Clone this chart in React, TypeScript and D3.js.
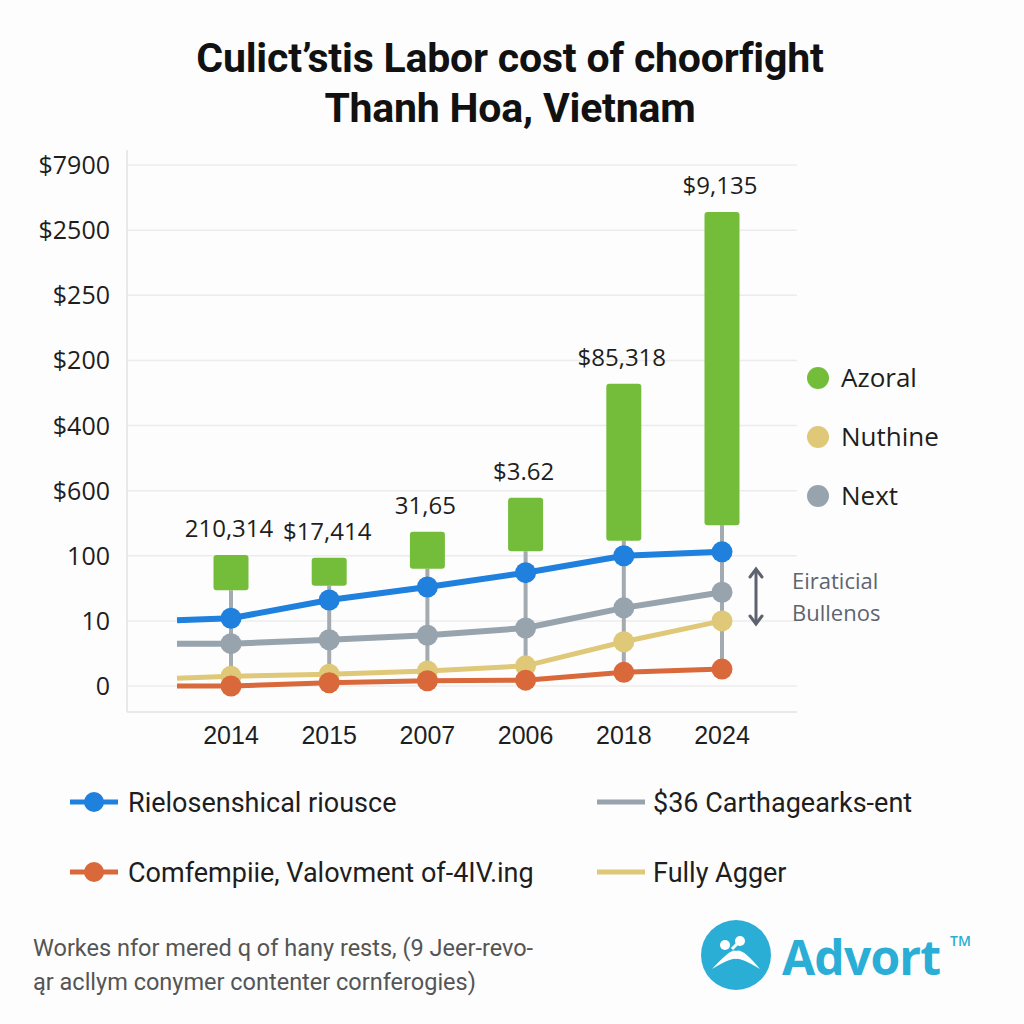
import React from "react";
import * as d3 from "d3";

const years = ["2014", "2015", "2007", "2006", "2018", "2024"];
const yTickLabels = ["0", "10", "100", "$600", "$400", "$200", "$250", "$2500", "$7900"];

// values in axis-step units (0 = "0" tick, 8 = "$7900" tick)
const barTop = [2.01, 1.97, 2.37, 2.89, 4.64, 7.28];
const barBottom = [1.47, 1.54, 1.8, 2.07, 2.23, 2.47];
const barLabels = ["210,314", "$17,414", "31,65", "$3.62", "$85,318", "$9,135"];

const blueValues = [1.04, 1.32, 1.52, 1.74, 2.0, 2.06];
const grayValues = [0.65, 0.71, 0.78, 0.89, 1.2, 1.44];
const yellowValues = [0.15, 0.18, 0.23, 0.31, 0.68, 1.0];
const orangeValues = [0.0, 0.05, 0.08, 0.09, 0.21, 0.26];
const leadIn = { blue: 1.01, gray: 0.65, yellow: 0.12, orange: 0.0 };

const sideLegend = ["Azoral", "Nuthine", "Next"];
const bottomLegend = [
  "Rielosenshical riousce",
  "$36 Carthagearks-ent",
  "Comfempiie, Valovment of-4IV.ing",
  "Fully Agger",
];
const titleLines = ["Culict\u2019stis Labor cost of choorfight", "Thanh Hoa, Vietnam"];
const footerLines = [
  "Workes nfor mered q of hany rests, (9 Jeer-revo-",
  "\u0105r acllym conymer contenter cornferogies)",
];

const C = {
  green: "#74bd3a",
  blue: "#1f80dd",
  gray: "#97a3ad",
  yellow: "#dfc878",
  orange: "#d9683b",
  connector: "#a3aab0",
  grid: "#ececec",
  text: "#1e1e1e",
  logo: "#2aaed6",
};

export default function App() {
  const x = d3.scalePoint<string>().domain(years).range([231, 722]);
  const y = d3.scaleLinear().domain([0, 8]).range([686, 165]);
  const step = x.step();
  const leadX = (x(years[0]) as number) - step * 0.55;

  const line = d3
    .line<[number, number]>()
    .x((d) => d[0])
    .y((d) => y(d[1]));

  const series = [
    { key: "yellow", vals: yellowValues, color: C.yellow, w: 5, lead: leadIn.yellow },
    { key: "orange", vals: orangeValues, color: C.orange, w: 5, lead: leadIn.orange },
    { key: "gray", vals: grayValues, color: C.gray, w: 6, lead: leadIn.gray },
    { key: "blue", vals: blueValues, color: C.blue, w: 6, lead: leadIn.blue },
  ];

  const pts = (vals: number[], lead: number): [number, number][] => [
    [leadX, lead],
    ...vals.map((v, i) => [x(years[i]) as number, v] as [number, number]),
  ];

  const barW = 35;
  const font = "'Open Sans', 'Noto Sans', sans-serif";

  return (
    <div style={{ position: "absolute", left: 0, top: 0 }}>
      <svg width={1024} height={1024} viewBox="0 0 1024 1024">
        <rect width={1024} height={1024} fill="#fdfdfd" />
        {/* title */}
        {titleLines.map((t, i) => (
          <text
            key={t}
            x={510}
            y={72 + i * 50}
            textAnchor="middle"
            fontFamily="Roboto, 'Liberation Sans', sans-serif"
            fontWeight={700}
            fontSize={41}
            letterSpacing={-0.2}
            fill="#111"
          >
            {t}
          </text>
        ))}

        {/* gridlines */}
        {yTickLabels.map((t, i) => (
          <line key={"g" + t} x1={127} x2={797} y1={y(i)} y2={y(i)} stroke={C.grid} strokeWidth={1.5} />
        ))}
        <line x1={127} x2={127} y1={150} y2={712} stroke="#e2e2e2" strokeWidth={1.5} />
        <line x1={127} x2={797} y1={712} y2={712} stroke="#e2e2e2" strokeWidth={1.5} />

        {/* y tick labels */}
        {yTickLabels.map((t, i) => (
          <text key={t} x={110} y={y(i)} dy="0.36em" textAnchor="end" fontFamily={font} fontSize={25} fill={C.text}>
            {t}
          </text>
        ))}

        {/* x labels */}
        {years.map((yr) => (
          <text
            key={yr}
            x={x(yr) as number}
            y={744}
            textAnchor="middle"
            fontFamily="'Liberation Sans', Arial, sans-serif"
            fontSize={25}
            fill={C.text}
          >
            {yr}
          </text>
        ))}

        {/* vertical connectors */}
        {years.map((yr, i) => (
          <line
            key={"c" + yr}
            x1={x(yr) as number}
            x2={x(yr) as number}
            y1={y(barBottom[i])}
            y2={y(orangeValues[i])}
            stroke={C.connector}
            strokeWidth={4}
          />
        ))}

        {/* bars */}
        {years.map((yr, i) => (
          <rect
            key={"b" + yr}
            x={(x(yr) as number) - barW / 2}
            y={y(barTop[i])}
            width={barW}
            height={y(barBottom[i]) - y(barTop[i])}
            rx={3}
            fill={C.green}
          />
        ))}
        {years.map((yr, i) => (
          <text
            key={"bl" + yr}
            x={(x(yr) as number) - 2}
            y={y(barTop[i]) - 18}
            textAnchor="middle"
            fontFamily={font}
            fontSize={24}
            fill={C.text}
          >
            {barLabels[i]}
          </text>
        ))}

        {/* lines */}
        {series.map((s) => (
          <path key={s.key} d={line(pts(s.vals, s.lead)) as string} fill="none" stroke={s.color} strokeWidth={s.w} />
        ))}
        {series.map((s) =>
          s.vals.map((v, i) => (
            <circle key={s.key + i} cx={x(years[i]) as number} cy={y(v)} r={10.5} fill={s.color} />
          ))
        )}

        {/* side legend */}
        {sideLegend.map((t, i) => (
          <g key={t} transform={`translate(818, ${378 + i * 59})`}>
            <circle r={11} fill={[C.green, C.yellow, C.gray][i]} />
            <text x={23} dy="0.36em" fontFamily={font} fontSize={26} fill={C.text}>
              {t}
            </text>
          </g>
        ))}

        {/* double arrow annotation */}
        <g stroke="#5d6270" strokeWidth={3} fill="none" strokeLinecap="round">
          <line x1={756} x2={756} y1={570} y2={623} />
          <path d="M750,577 L756,569 L762,577" />
          <path d="M750,616 L756,624 L762,616" />
        </g>
        <text x={792} y={589} fontFamily={font} fontSize={22} fill="#5f6470">
          Eiraticial
        </text>
        <text x={792} y={621} fontFamily={font} fontSize={22} fill="#5f6470">
          Bullenos
        </text>

        {/* bottom legend */}
        {bottomLegend.map((t, i) => {
          const col = i % 2;
          const row = Math.floor(i / 2);
          const lx = col === 0 ? 70 : 597;
          const ly = 802 + row * 70;
          const color = [C.blue, C.gray, C.orange, C.yellow][i];
          return (
            <g key={t} transform={`translate(${lx}, ${ly})`}>
              <line x1={0} x2={48} stroke={color} strokeWidth={5} />
              {col === 0 && <circle cx={24} r={10} fill={color} />}
              <text
                x={col === 0 ? 58 : 56}
                dy="0.36em"
                fontFamily="Roboto, 'Liberation Sans', sans-serif"
                fontSize={27}
                fill={C.text}
              >
                {t}
              </text>
            </g>
          );
        })}

        {/* footer */}
        {footerLines.map((t, i) => (
          <text
            key={t}
            x={33}
            y={956 + i * 34}
            fontFamily="Roboto, 'Liberation Sans', sans-serif"
            fontSize={23.5}
            fill="#555"
          >
            {t}
          </text>
        ))}

        {/* logo */}
        <g transform="translate(736, 955)">
          <circle r={35} fill={C.logo} />
          <circle cx={-11} cy={-10} r={5} fill="#fff" />
          <circle cx={4} cy={-14} r={5} fill="#fff" />
          <path d="M-4,-6 L2,-12" stroke="#fff" strokeWidth={3} />
          <path d="M-24,14 Q-4,-8 0,-4 Q6,-8 24,14 Q4,2 0,4 Q-4,2 -24,14 Z" fill="#fff" />
        </g>
        <text
          x={782}
          y={975}
          fontFamily="'Open Sans', 'Noto Sans', sans-serif"
          fontWeight={700}
          fontSize={48}
          letterSpacing={-0.8}
          fill={C.logo}
        >
          Advort
        </text>
        <text x={950} y={946} fontFamily="'Open Sans', sans-serif" fontWeight={600} fontSize={14} fill={C.logo}>
          TM
        </text>
      </svg>
    </div>
  );
}
